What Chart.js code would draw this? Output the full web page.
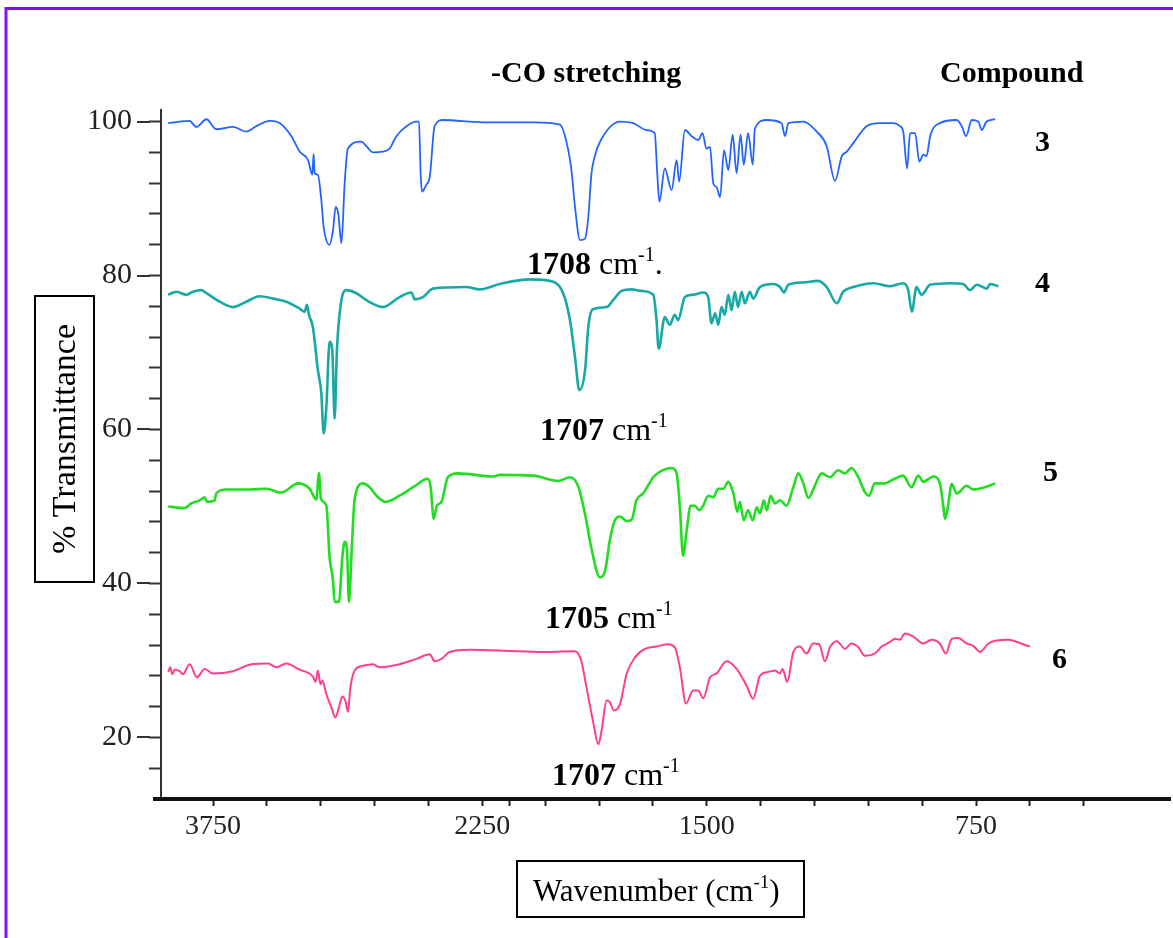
<!DOCTYPE html>
<html>
<head>
<meta charset="utf-8">
<script src="https://cdn.jsdelivr.net/npm/chart.js@4.4.1/dist/chart.umd.min.js"></script>
<style>
  html, body { margin: 0; padding: 0; background: #fff; }
  canvas { display: block; }
</style>
</head>
<body>
<canvas id="irChart" width="1173" height="938"></canvas>
<script>
// IR spectra, [wavenumber cm-1, % transmittance]
const compound3 = [
  [4000,99.8],[3936,100],[3881,100.1],[3843,99.3],[3787,100.3],[3732,99.0],[3639,99.3],[3565,98.7],
  [3509,99.4],[3435,100.1],[3379,99.8],[3314,98.1],[3268,96.1],[3221,95.0],[3197,93.1],[3190,95.8],
  [3184,93.3],[3166,93.1],[3147,89.8],[3134,86.3],[3101,84.0],[3082,85.9],[3067,88.9],[3052,87.9],
  [3035,84.2],[3017,92.0],[2999,96.5],[2924,97.4],[2896,96.8],[2859,96.0],[2804,96.1],[2766,96.5],
  [2729,98.1],[2673,99.4],[2618,100],[2603,100],[2594,93.3],[2586,90.9],[2562,91.8],[2543,92.8],
  [2516,99.4],[2469,100.2],[2246,99.9],[1983,99.9],[1909,99.6],[1890,97.2],[1877,93.7],[1867,88.9],
  [1853,84.6],[1839,84.8],[1830,87.6],[1821,93.3],[1812,95.5],[1795,97.6],[1742,100],[1705,99.8],
  [1668,98.9],[1645,98.5],[1638,93.3],[1632,89.6],[1617,93.9],[1598,91.1],[1584,95.0],[1577,92.2],
  [1561,98.9],[1542,98.1],[1524,97.6],[1512,98.5],[1501,96.5],[1491,96.7],[1482,92.0],[1473,91.5],
  [1463,90.2],[1452,96.3],[1440,93.7],[1428,98.3],[1417,93.3],[1406,98.3],[1397,94.4],[1385,98.5],
  [1372,94.4],[1366,99.1],[1333,100.2],[1292,99.8],[1282,98.1],[1273,99.8],[1231,100],[1194,98.7],
  [1166,96.8],[1143,92.3],[1124,95.5],[1110,96.1],[1092,97.2],[1055,99.4],[1018,99.8],[981,99.8],
  [962,99.4],[953,98.7],[942,93.9],[934,98.5],[920,98.5],[908,94.8],[897,95.7],[888,95.5],
  [878,98.1],[851,99.8],[804,100.2],[790,99.4],[778,98.1],[762,100.2],[744,100],[734,98.9],
  [721,100],[697,100.3]
];
const compound4 = [
  [4000,77.5],[3955,77.9],[3899,77.5],[3862,77.9],[3815,78.1],[3787,77.7],[3713,76.6],[3639,75.9],
  [3565,76.6],[3491,77.3],[3416,77.0],[3342,76.6],[3268,75.7],[3240,75.3],[3227,76.2],[3216,74.9],
  [3194,73.3],[3166,67.7],[3147,64.7],[3134,59.5],[3119,62.9],[3101,71.4],[3086,70.3],[3073,61.4],
  [3060,70.3],[3035,76.8],[3007,78.1],[2952,77.7],[2896,76.8],[2804,75.9],[2711,77.2],[2645,77.8],
  [2627,76.9],[2581,77.2],[2525,78.3],[2339,78.5],[2265,78.2],[2153,78.9],[1993,79.5],[1928,79.2],
  [1900,77.7],[1881,74.2],[1867,69.4],[1855,65.1],[1839,67.7],[1830,73.3],[1818,75.6],[1779,75.9],
  [1761,76.8],[1737,78.0],[1709,78.2],[1682,78.0],[1649,77.5],[1640,74.2],[1634,70.5],[1617,74.6],
  [1603,73.6],[1589,74.9],[1580,74.2],[1561,77.2],[1538,77.5],[1510,77.8],[1496,77.2],[1487,73.8],
  [1477,75.1],[1468,73.6],[1459,75.9],[1450,74.9],[1440,77.5],[1431,75.5],[1422,77.9],[1413,75.9],
  [1403,77.9],[1394,76.4],[1380,77.9],[1371,77.0],[1352,78.5],[1315,78.9],[1296,78.5],[1285,77.8],
  [1273,78.8],[1231,79.1],[1190,79.3],[1166,78.5],[1138,76.4],[1120,77.9],[1092,78.5],[1036,79.0],
  [990,78.6],[953,79.0],[939,78.1],[929,75.3],[916,78.5],[902,77.5],[878,78.8],[823,79.0],
  [786,78.9],[767,78.1],[748,78.8],[720,78.3],[711,78.9],[688,78.6]
];
const compound5 = [
  [4000,50.0],[3908,49.8],[3871,50.4],[3825,50.8],[3797,51.2],[3784,50.6],[3741,50.8],[3732,51.7],
  [3676,52.2],[3546,52.2],[3453,52.3],[3370,51.8],[3277,53.0],[3212,52.3],[3175,50.9],[3160,54.3],
  [3149,51.0],[3119,50.1],[3101,43.4],[3082,40.4],[3073,37.6],[3049,37.6],[3030,43.4],[3017,45.4],
  [3004,44.3],[2993,37.6],[2978,44.3],[2961,51.0],[2915,53.0],[2878,52.5],[2840,51.4],[2789,50.6],
  [2711,51.4],[2636,52.5],[2553,53.6],[2538,52.5],[2521,48.4],[2503,50.1],[2478,50.6],[2442,53.8],
  [2386,54.3],[2191,53.9],[2154,54.1],[1983,54.0],[1914,53.3],[1881,53.8],[1858,52.6],[1839,49.0],
  [1821,44.5],[1798,40.8],[1784,41.5],[1770,45.6],[1756,48.2],[1742,48.7],[1723,48.1],[1709,48.3],
  [1696,50.8],[1677,51.7],[1649,53.8],[1631,54.5],[1598,55.0],[1584,54.3],[1575,49.9],[1566,43.6],
  [1556,46.9],[1545,50.1],[1533,50.1],[1521,49.5],[1510,50.1],[1496,51.4],[1482,51.2],[1468,52.3],
  [1454,52.3],[1440,53.2],[1426,51.7],[1415,49.3],[1408,50.6],[1397,48.2],[1385,49.5],[1372,48.2],
  [1361,49.9],[1352,49.1],[1341,50.8],[1333,49.5],[1322,51.4],[1310,50.4],[1296,50.8],[1278,50.1],
  [1259,52.5],[1245,54.3],[1231,53.0],[1217,51.1],[1199,52.7],[1180,54.3],[1157,53.8],[1134,54.7],
  [1115,54.3],[1097,55.0],[1078,53.8],[1060,51.9],[1048,51.4],[1032,53.0],[1004,53.0],[981,53.5],
  [953,54.0],[930,52.5],[911,54.0],[897,53.2],[869,53.9],[851,53.0],[841,49.9],[837,48.4],
  [830,49.5],[818,52.9],[804,51.7],[776,52.7],[758,52.2],[725,52.5],[697,53.0]
];
const compound6 = [
  [4000,28.5],[3988,29.1],[3977,28.2],[3964,28.8],[3936,28.6],[3918,28.2],[3880,29.5],[3840,27.8],
  [3797,28.9],[3751,28.3],[3639,28.6],[3537,29.5],[3444,29.6],[3398,29.1],[3342,29.6],[3268,28.8],
  [3194,27.9],[3179,27.2],[3166,28.7],[3152,26.9],[3141,27.4],[3119,25.6],[3091,23.9],[3069,22.6],
  [3049,23.9],[3030,25.3],[3011,24.6],[2999,23.3],[2985,26.5],[2961,28.7],[2915,29.3],[2859,29.5],
  [2822,29.1],[2711,29.5],[2618,30.2],[2543,30.8],[2516,29.9],[2478,30.2],[2432,31.1],[2321,31.4],
  [2060,31.2],[1937,31.1],[1872,31.2],[1851,30.2],[1835,26.5],[1816,21.9],[1802,19.1],[1793,20.9],
  [1779,24.8],[1770,24.6],[1759,23.5],[1742,24.3],[1723,28.3],[1700,30.4],[1672,31.5],[1640,31.8],
  [1607,32.1],[1589,31.7],[1575,29.1],[1558,24.4],[1538,26.1],[1524,26.1],[1510,25.1],[1491,27.8],
  [1473,28.3],[1445,29.9],[1417,28.9],[1389,26.7],[1371,25.0],[1352,28.0],[1329,28.5],[1310,28.7],
  [1296,28.3],[1289,28.9],[1276,27.2],[1259,31.1],[1241,31.8],[1222,30.9],[1204,32.2],[1187,32.1],
  [1171,29.9],[1157,31.7],[1138,32.5],[1115,31.5],[1097,32.2],[1078,31.7],[1060,30.6],[1032,30.9],
  [1013,31.8],[990,32.4],[976,32.8],[962,32.7],[948,33.5],[925,33.1],[897,32.2],[874,32.7],
  [851,32.2],[834,30.9],[818,32.8],[800,32.9],[776,32.2],[758,31.9],[739,31.1],[716,32.2],
  [693,32.6],[660,32.7],[642,32.5],[619,32.1],[600,31.8]
];

const compoundIds = ["3", "4", "5", "6"];
const peakLabels = ["1708", "1707", "1705", "1707"];
const lineColors = ["#2563ff", "#17a9a6", "#22dd22", "#ff3f8e"];
const lineWidths = [1.8, 2.6, 2.6, 2.0];

// axis ticks (wavenumbers) and labelled ones
const xTicks = [3750, 3450, 3150, 2850, 2550, 2250, 2100, 1950, 1800, 1650, 1500, 1350, 1200, 1050, 900, 750, 600, 450];
const xLabelled = [3750, 2250, 1500, 750];
const yTicks = [16, 20, 24, 28, 32, 36, 40, 44, 48, 52, 56, 60, 64, 68, 72, 76, 80, 84, 88, 92, 96, 100];
const yLabelled = [20, 40, 60, 80, 100];

// the spectrometer axis is compressed 2x above 2000 cm-1
function fold(wn) { return wn <= 2000 ? wn : 2000 + (wn - 2000) / 2; }
function unfold(t) { return t <= 2000 ? t : 2000 + (t - 2000) * 2; }

const serif = '"Liberation Serif", "Times New Roman", serif';
const series = [compound3, compound4, compound5, compound6];

function drawPeakLabel(ctx, text, x, base, dot) {
  ctx.textAlign = "left";
  ctx.textBaseline = "alphabetic";
  ctx.font = "bold 32px " + serif;
  ctx.fillText(text, x, base);
  let w = ctx.measureText(text).width;
  ctx.font = "32px " + serif;
  ctx.fillText(" cm", x + w, base);
  w += ctx.measureText(" cm").width;
  ctx.font = "20px " + serif;
  ctx.fillText("-1", x + w, base - 13);
  w += ctx.measureText("-1").width;
  if (dot) {
    ctx.font = "32px " + serif;
    ctx.fillText(".", x + w, base);
  }
}

const decor = {
  id: "decor",
  afterDraw(chart) {
    const ctx = chart.ctx;
    const area = chart.chartArea;
    const ys = chart.scales.y;
    ctx.save();

    // long major ticks on the y axis
    ctx.strokeStyle = "#333";
    ctx.lineWidth = 2;
    yLabelled.forEach(v => {
      const py = Math.round(ys.getPixelForValue(v));
      ctx.beginPath();
      ctx.moveTo(area.left - 24, py);
      ctx.lineTo(area.left - 11, py);
      ctx.stroke();
    });

    // x axis line runs a bit past the y axis
    ctx.strokeStyle = "#111";
    ctx.lineWidth = 4;
    ctx.beginPath();
    ctx.moveTo(153, area.bottom);
    ctx.lineTo(area.left + 2, area.bottom);
    ctx.stroke();

    // purple frame
    ctx.strokeStyle = "#7d10f5";
    ctx.lineWidth = 3;
    ctx.beginPath();
    ctx.moveTo(6, 938);
    ctx.lineTo(6, 8.5);
    ctx.lineTo(1173, 8.5);
    ctx.stroke();

    ctx.fillStyle = "#000";
    ctx.textBaseline = "alphabetic";
    ctx.font = "bold 30px " + serif;
    ctx.textAlign = "left";
    ctx.fillText("-CO stretching", 491, 82);
    ctx.fillText("Compound", 940, 82);

    const idPos = [[1035, 151], [1035, 292], [1043, 481], [1052, 668]];
    compoundIds.forEach((id, i) => {
      ctx.font = "bold 30px " + serif;
      ctx.fillText(id, idPos[i][0], idPos[i][1]);
    });

    const peakPos = [[527, 274], [540, 440], [545, 628], [552, 785]];
    peakLabels.forEach((p, i) => drawPeakLabel(ctx, p, peakPos[i][0], peakPos[i][1], i === 0));

    // axis title boxes
    ctx.strokeStyle = "#000";
    ctx.lineWidth = 2;
    ctx.strokeRect(35, 296, 59, 286);
    ctx.strokeRect(517, 861, 287, 56);

    ctx.save();
    ctx.translate(66, 439);
    ctx.rotate(-Math.PI / 2);
    ctx.font = "34px " + serif;
    ctx.textAlign = "center";
    ctx.textBaseline = "middle";
    ctx.fillText("% Transmittance", 0, 0);
    ctx.restore();

    ctx.font = "31px " + serif;
    ctx.textAlign = "left";
    ctx.textBaseline = "alphabetic";
    let x = 533;
    ctx.fillText("Wavenumber (cm", x, 901);
    x += ctx.measureText("Wavenumber (cm").width;
    ctx.font = "19px " + serif;
    ctx.fillText("-1", x, 888);
    x += ctx.measureText("-1").width;
    ctx.font = "31px " + serif;
    ctx.fillText(")", x, 901);

    ctx.restore();
  }
};

new Chart(document.getElementById("irChart"), {
  type: "line",
  data: {
    datasets: series.map((s, i) => ({
      label: "Compound " + compoundIds[i],
      data: s.map(p => ({ x: fold(p[0]), y: p[1] })),
      borderColor: lineColors[i],
      borderWidth: lineWidths[i],
      pointRadius: 0,
      cubicInterpolationMode: "monotone",
      fill: false
    }))
  },
  options: {
    responsive: false,
    animation: false,
    layout: { padding: { top: 110, right: 3, bottom: 0, left: 0 } },
    plugins: { legend: { display: false }, tooltip: { enabled: false } },
    scales: {
      x: {
        type: "linear",
        reverse: true,
        min: 210,
        max: 3020,
        afterFit: s => { s.height = 139; },
        afterBuildTicks: s => { s.ticks = xTicks.map(w => ({ value: fold(w) })); },
        border: { display: true, color: "#111", width: 4 },
        grid: { drawOnChartArea: false, drawTicks: true, tickLength: 7, tickColor: "#222", tickWidth: 2 },
        ticks: {
          autoSkip: false,
          maxRotation: 0,
          padding: 4,
          color: "#222",
          font: { family: serif, size: 28 },
          callback: v => {
            const w = Math.round(unfold(v));
            return xLabelled.includes(w) ? String(w) : "";
          }
        }
      },
      y: {
        min: 12,
        max: 101.5,
        afterFit: s => { s.width = 161; },
        afterBuildTicks: s => { s.ticks = yTicks.map(v => ({ value: v })); },
        border: { display: true, color: "#333", width: 2 },
        grid: { drawOnChartArea: false, drawTicks: true, tickLength: 12, tickColor: "#333", tickWidth: 2 },
        ticks: {
          autoSkip: false,
          padding: 17,
          color: "#222",
          font: { family: serif, size: 30 },
          callback: v => (yLabelled.includes(v) ? String(v) : "")
        }
      }
    }
  },
  plugins: [decor]
});
</script>
</body>
</html>
